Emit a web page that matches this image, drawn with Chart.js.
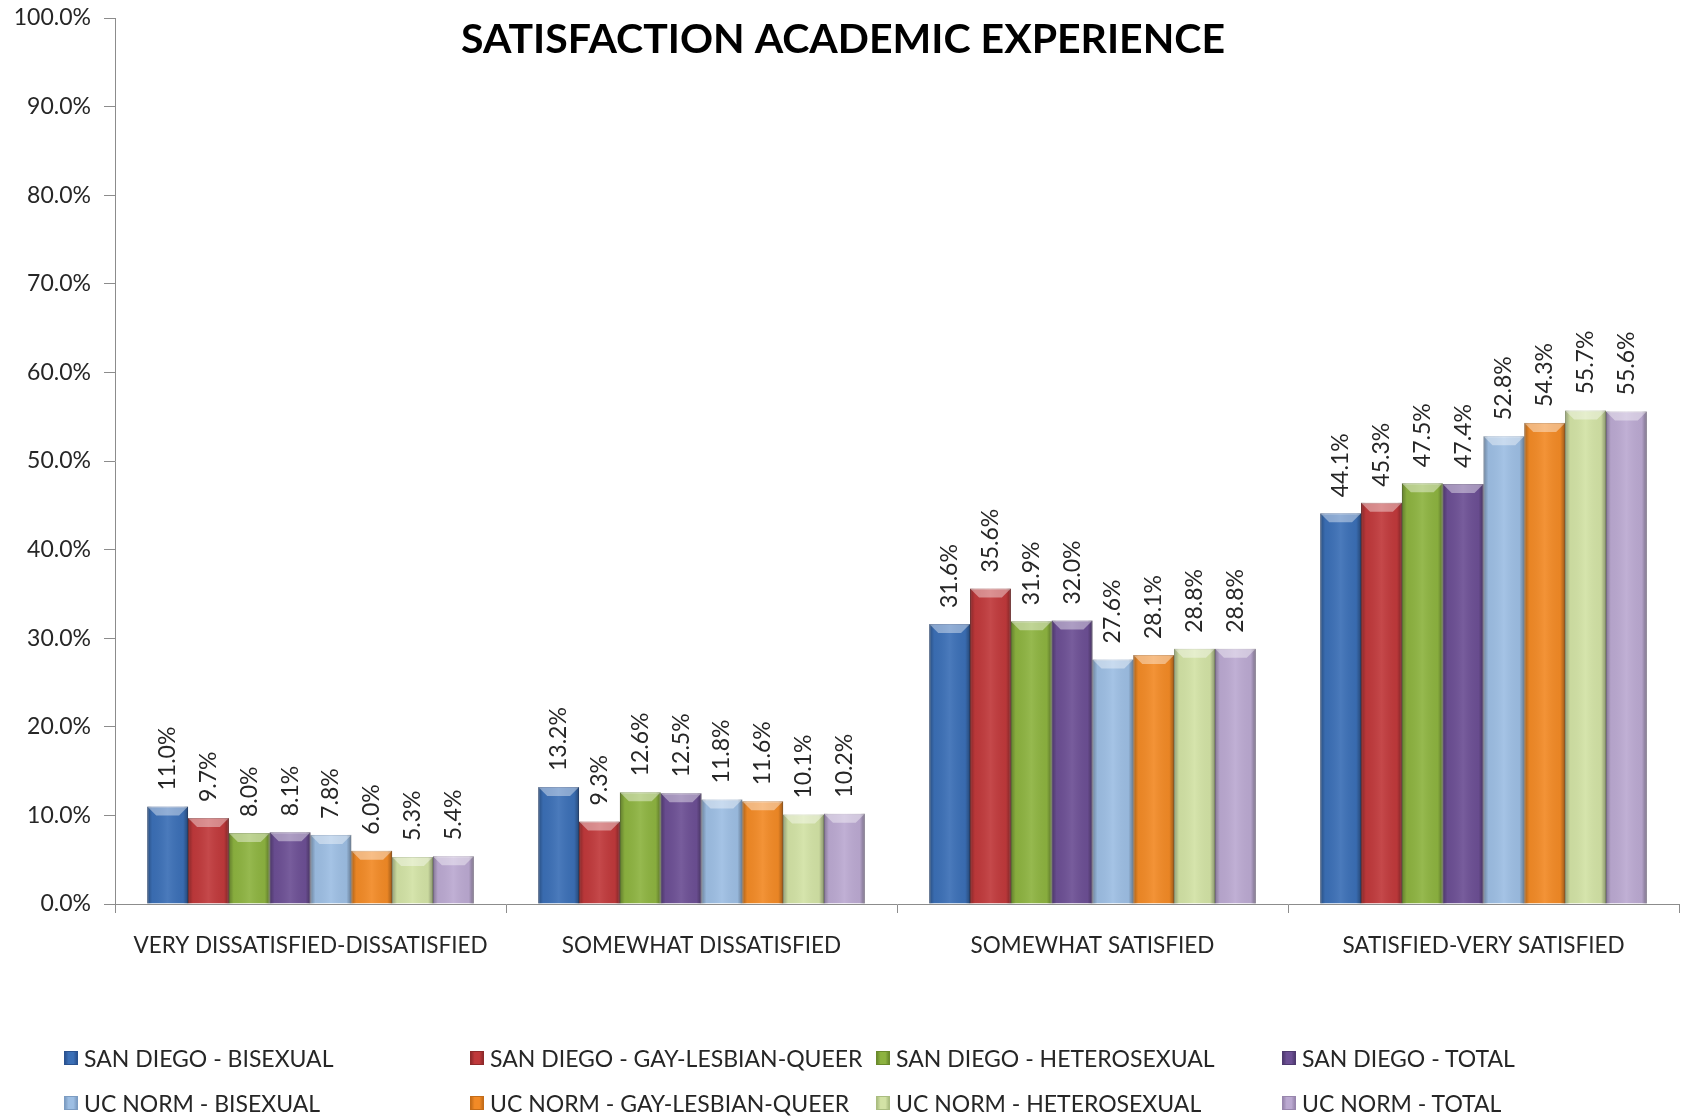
<!DOCTYPE html>
<html>
<head>
<meta charset="utf-8">
<script src="https://cdn.jsdelivr.net/npm/chart.js@4/dist/chart.umd.min.js"></script>
<style>
  body { margin: 0; background: #fff; }
  #wrap { position: relative; width: 1685px; height: 1116px; }
  #legend { position: absolute; left: 0; top: 0; width: 1685px; height: 1116px; pointer-events: none;
            font-family: Lato, sans-serif; font-size: 23px; color: #262626; }
  .item { position: absolute; display: flex; align-items: center; white-space: nowrap; transform: translateY(-50%); }
  .box { width: 14px; height: 14px; margin-right: 6px; box-sizing: border-box; }
</style>
</head>
<body>
<div id="wrap">
  <canvas id="chart" width="1685" height="1116"></canvas>
  <div id="legend"></div>
</div>
<script>
// chart data
const categories = ["VERY DISSATISFIED-DISSATISFIED", "SOMEWHAT DISSATISFIED", "SOMEWHAT SATISFIED", "SATISFIED-VERY SATISFIED"];
const seriesNames = [
    "SAN DIEGO - BISEXUAL", "SAN DIEGO - GAY-LESBIAN-QUEER", "SAN DIEGO - HETEROSEXUAL", "SAN DIEGO - TOTAL",
    "UC NORM - BISEXUAL", "UC NORM - GAY-LESBIAN-QUEER", "UC NORM - HETEROSEXUAL", "UC NORM - TOTAL"
];
const sdBisexual = [11.0, 13.2, 31.6, 44.1];
const sdGlq = [9.7, 9.3, 35.6, 45.3];
const sdHetero = [8.0, 12.6, 31.9, 47.5];
const sdTotal = [8.1, 12.5, 32.0, 47.4];
const ucBisexual = [7.8, 11.8, 27.6, 52.8];
const ucGlq = [6.0, 11.6, 28.1, 54.3];
const ucHetero = [5.3, 10.1, 28.8, 55.7];
const ucTotal = [5.4, 10.2, 28.8, 55.6];
const yTicks = [0, 10, 20, 30, 40, 50, 60, 70, 80, 90, 100];

const seriesValues = [sdBisexual, sdGlq, sdHetero, sdTotal, ucBisexual, ucGlq, ucHetero, ucTotal];
const colors = ["#3b6fb6", "#c0393b", "#8db340", "#6c4f94", "#9dbee3", "#f28a26", "#d2e2a5", "#bba9d1"];
const borders = ["#2a5290", "#8f2a2b", "#6a8a2c", "#4f3a70", "#7c9cc2", "#c46c18", "#aabd80", "#9886ad"];

const fontFamily = "Lato, sans-serif";
const textColor = "#262626";
const axisColor = "#8c8c8c";

// title drawn over the plot area like the original
const titlePlugin = {
    id: "floatingTitle",
    afterDraw(chart) {
        let ctx = chart.ctx;
        ctx.save();
        ctx.font = "bold 41px " + fontFamily;
        ctx.fillStyle = "#000";
        ctx.textAlign = "center";
        ctx.textBaseline = "middle";
        ctx.fillText("SATISFACTION ACADEMIC EXPERIENCE", 843, 40);
        ctx.restore();
    }
};

// bevel shading + rotated value labels
const barDecor = {
    id: "barDecor",
    afterDatasetsDraw(chart) {
        let ctx = chart.ctx;
        chart.data.datasets.forEach((ds, i) => {
            chart.getDatasetMeta(i).data.forEach((bar, j) => {
                let left = bar.x - bar.width / 2;
                let right = bar.x + bar.width / 2;
                let top = bar.y;
                let bottom = bar.base;

                ctx.save();
                let g = ctx.createLinearGradient(left, 0, right, 0);
                g.addColorStop(0, "rgba(0,0,0,0.30)");
                g.addColorStop(0.12, "rgba(0,0,0,0.04)");
                g.addColorStop(0.5, "rgba(255,255,255,0.08)");
                g.addColorStop(0.88, "rgba(0,0,0,0.04)");
                g.addColorStop(1, "rgba(0,0,0,0.35)");
                ctx.fillStyle = g;
                ctx.fillRect(left, top, right - left, bottom - top);

                let b = Math.min(9, (bottom - top) / 2);
                ctx.beginPath();
                ctx.moveTo(left, top);
                ctx.lineTo(right, top);
                ctx.lineTo(right - b, top + b);
                ctx.lineTo(left + b, top + b);
                ctx.closePath();
                ctx.fillStyle = "rgba(255,255,255,0.4)";
                ctx.fill();
                ctx.restore();

                ctx.save();
                ctx.font = "23px " + fontFamily;
                ctx.fillStyle = textColor;
                ctx.textAlign = "left";
                ctx.textBaseline = "middle";
                ctx.translate(bar.x, top - 16);
                ctx.rotate(-Math.PI / 2);
                ctx.fillText(ds.data[j].toFixed(1) + "%", 0, 0);
                ctx.restore();
            });
        });
    }
};

let datasets = seriesNames.map((name, i) => ({
    label: name,
    data: seriesValues[i],
    backgroundColor: colors[i],
    borderColor: borders[i],
    borderWidth: 1,
    barPercentage: 1.0,
    categoryPercentage: 0.835
}));

new Chart(document.getElementById("chart"), {
    type: "bar",
    data: { labels: categories, datasets: datasets },
    options: {
        responsive: false,
        animation: false,
        layout: { padding: { left: 0, right: 6, top: 18, bottom: 132 } },
        plugins: {
            legend: { display: false },
            title: { display: false },
            tooltip: { enabled: false }
        },
        scales: {
            x: {
                grid: { display: true, drawOnChartArea: false, drawTicks: true, tickLength: 9, color: axisColor, offset: true },
                border: { color: axisColor },
                ticks: { color: textColor, font: { family: fontFamily, size: 22.5 }, padding: 19, maxRotation: 0 },
                afterFit(scale) {
                    scale.height = 80;
                    scale.paddingLeft = 0;
                    scale.paddingRight = 0;
                }
            },
            y: {
                min: 0,
                max: 100,
                afterBuildTicks(scale) { scale.ticks = yTicks.map(v => ({ value: v })); },
                grid: { display: true, drawOnChartArea: false, drawTicks: true, tickLength: 11, color: axisColor },
                border: { color: axisColor },
                ticks: {
                    color: textColor,
                    font: { family: fontFamily, size: 23 },
                    padding: 13,
                    callback: v => v.toFixed(1) + "%"
                },
                afterFit(scale) {
                    scale.width = 115;
                    scale.paddingTop = 0;
                    scale.paddingBottom = 0;
                }
            }
        }
    },
    plugins: [barDecor, titlePlugin]
});

// legend in four columns, two rows
let legend = document.getElementById("legend");
let colX = [64, 470, 876, 1282];
let rowY = [1058, 1103];
seriesNames.forEach((name, i) => {
    let item = document.createElement("div");
    item.className = "item";
    item.style.left = colX[i % 4] + "px";
    item.style.top = rowY[Math.floor(i / 4)] + "px";
    item.innerHTML = `<span class="box" style="background:linear-gradient(90deg, ${borders[i]}, ${colors[i]} 30%, ${colors[i]} 70%, ${borders[i]}); border:1px solid ${borders[i]}"></span><span>${name}</span>`;
    legend.appendChild(item);
});
</script>
</body>
</html>
